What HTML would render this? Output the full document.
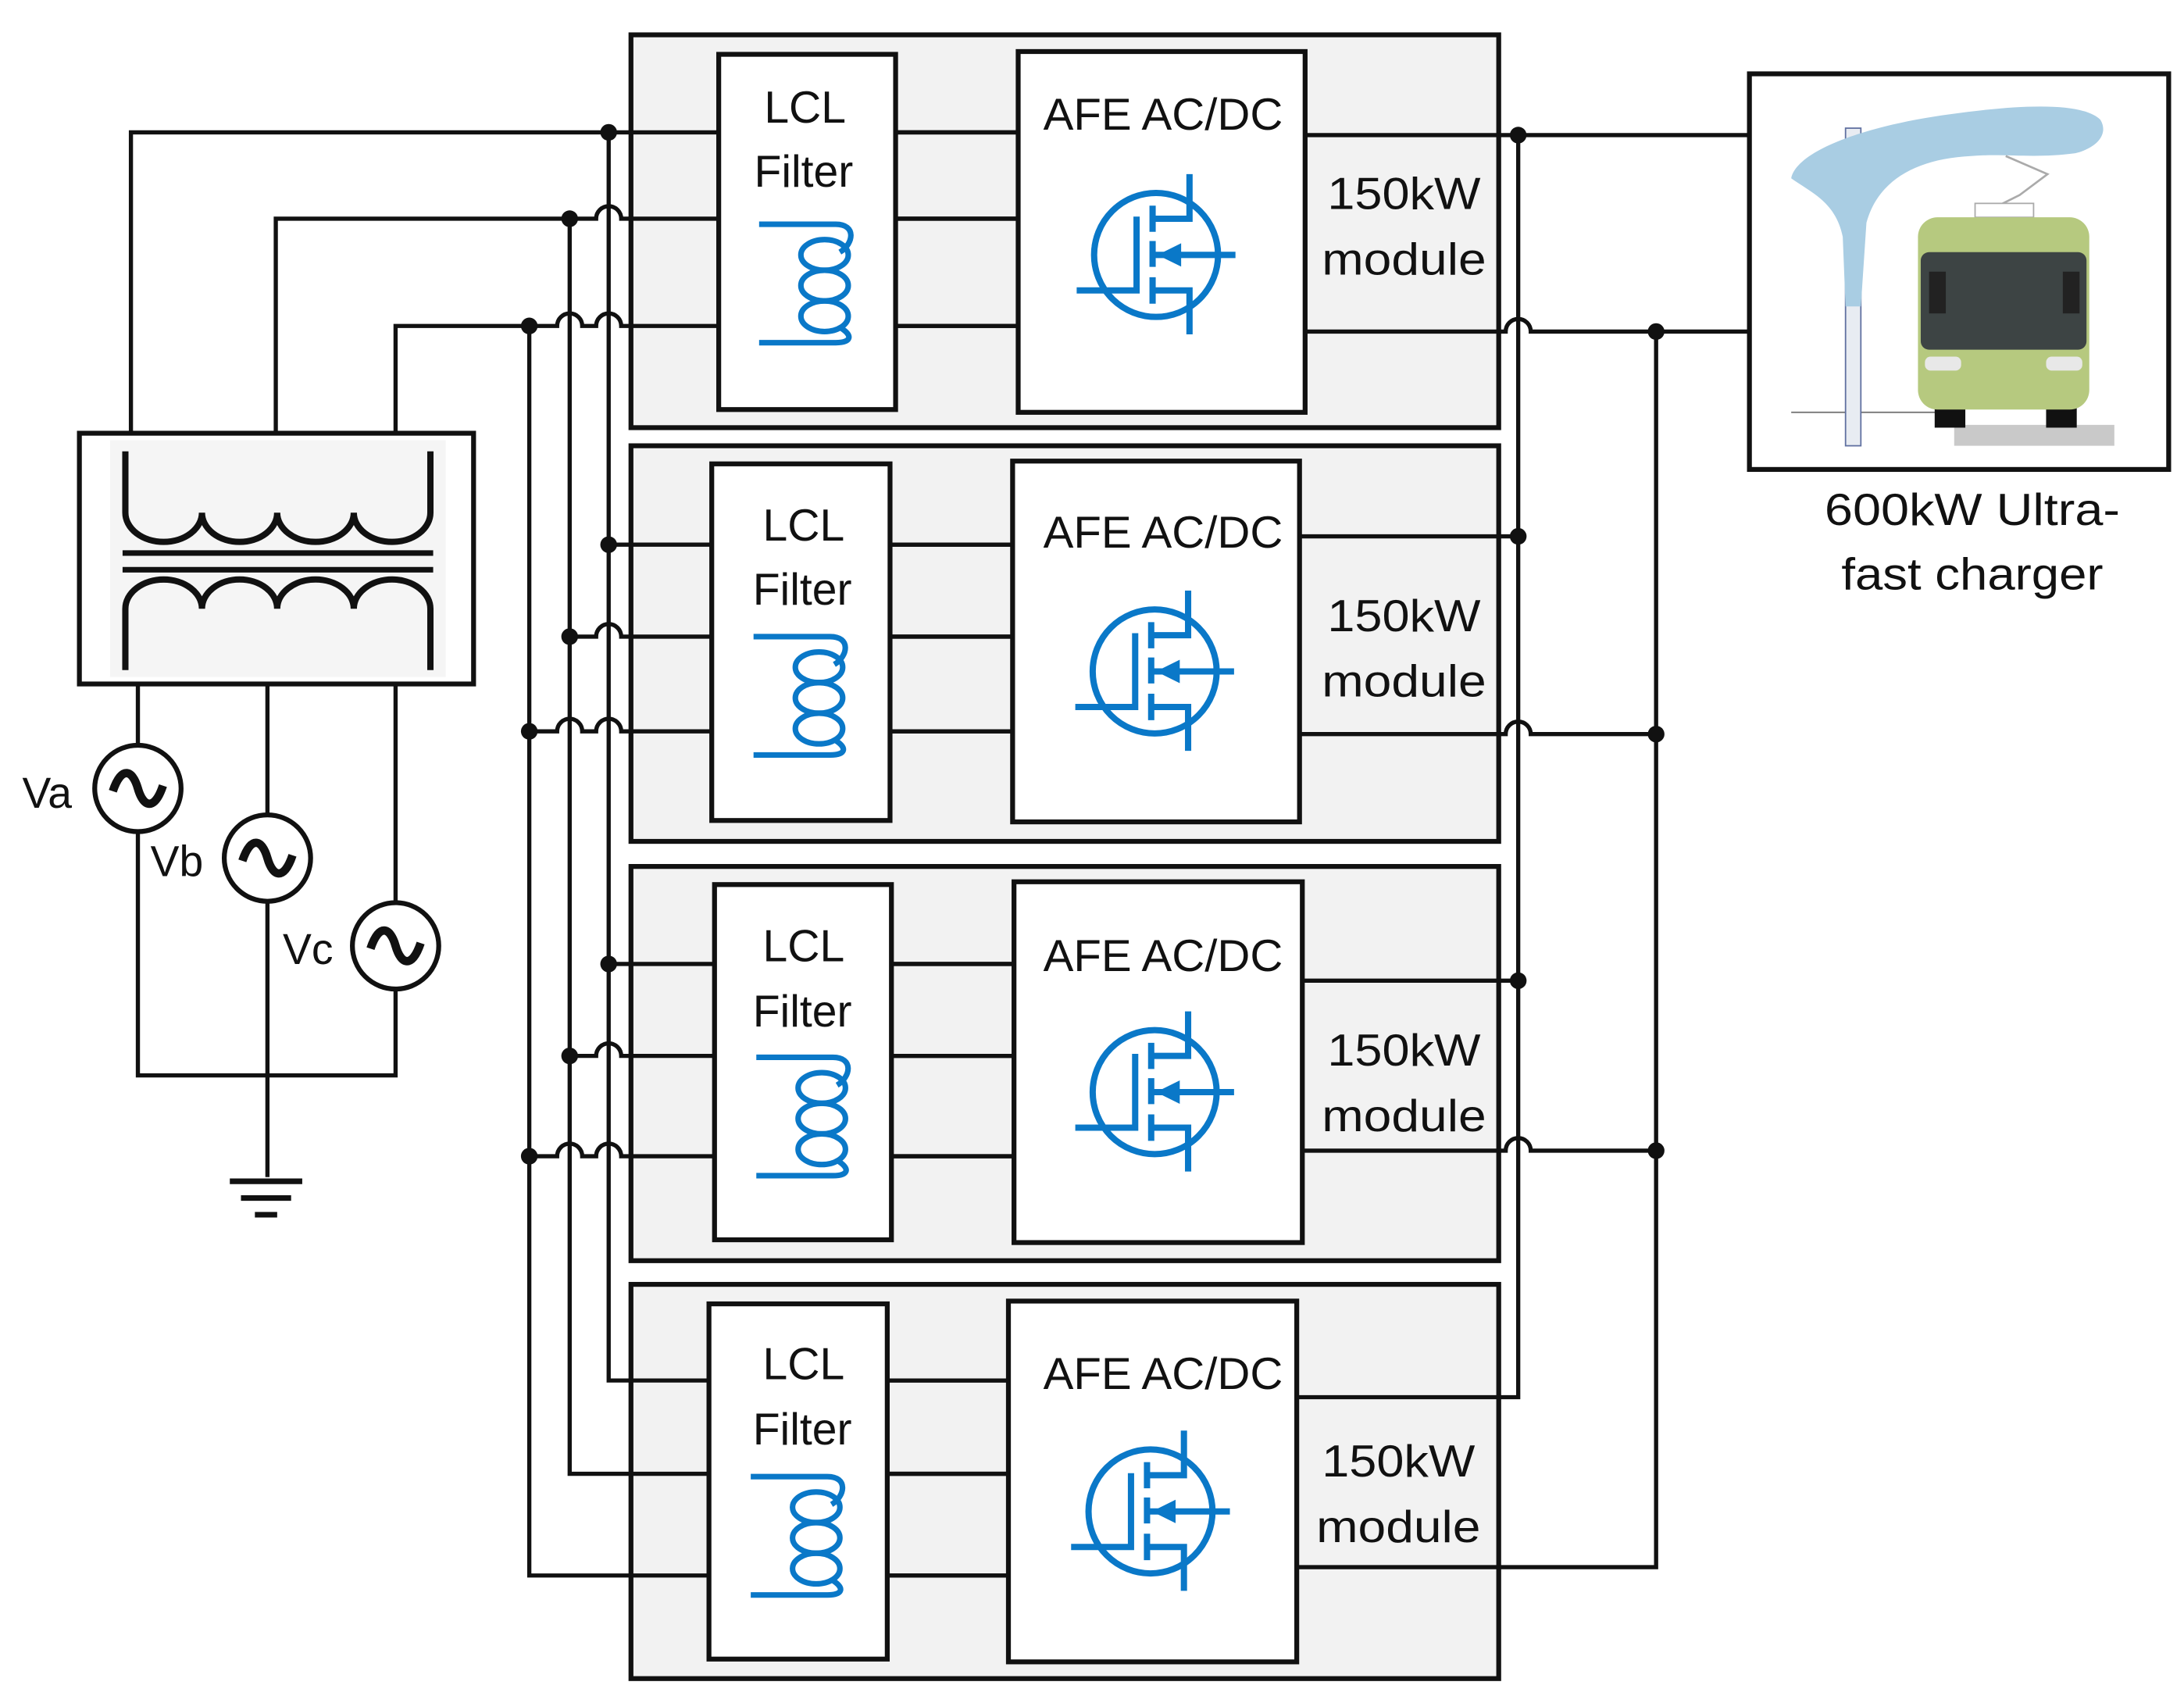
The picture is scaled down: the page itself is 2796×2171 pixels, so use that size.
<!DOCTYPE html>
<html><head><meta charset="utf-8"><style>
html,body{margin:0;padding:0;background:#fff;}
svg{display:block;}
text{font-family:"Liberation Sans",Arial,sans-serif;fill:#111;}
</style></head><body>
<svg width="2796" height="2171" viewBox="0 0 1568 1217.5" xmlns="http://www.w3.org/2000/svg">
<defs>
<g id="mos" fill="none" stroke="#0a78c8" stroke-width="4.5">
<circle cx="0" cy="0" r="44.5"/>
<path d="M-57 25.5H-14V-27.5"/>
<path d="M-2.5 -35.4V-16.6M-2.5 -10V8.6M-2.5 16V35"/>
<path d="M-2.5 -26H24V-58M-2.5 25.5H24V57M-2.5 0H57"/>
<polygon points="1,0 18,-8.4 18,8.4" fill="#0a78c8" stroke="none"/>
</g>
<g id="coil" fill="none" stroke="#0a78c8" stroke-width="4">
<path d="M0 0H55C70 0 68 14 58 20"/>
<ellipse cx="47" cy="22" rx="17" ry="11"/>
<ellipse cx="47" cy="44" rx="17" ry="11"/>
<ellipse cx="47" cy="66" rx="17" ry="11"/>
<path d="M58 74C68 80 66 85 55 85H0"/>
</g>
<g id="src">
<circle cx="0" cy="0" r="31" fill="#fff" stroke="#111" stroke-width="3.5"/>
<path d="M-18 2C-12 -16 -4 -14 0 0S12 16 18 -2" fill="none" stroke="#111" stroke-width="6"/>
</g>
</defs>

<g stroke="#111" stroke-width="3.5">
<rect x="453" y="25" width="623" height="282" fill="#f2f2f2"/>
<rect x="453" y="320" width="623" height="284" fill="#f2f2f2"/>
<rect x="453" y="622" width="623" height="283" fill="#f2f2f2"/>
<rect x="453" y="922" width="623" height="283" fill="#f2f2f2"/>
</g>

<g fill="none" stroke="#111" stroke-width="3">
<path d="M94 311V95H731"/>
<path d="M198 311V157H428A9 9 0 0 1 446 157H731"/>
<path d="M284 311V234H400A9 9 0 0 1 418 234H428A9 9 0 0 1 446 234H731"/>
<path d="M437 95V991H724"/>
<path d="M409 157V1058H724"/>
<path d="M380 234V1131H724"/>
<path d="M437 391H727"/>
<path d="M409 457H428A9 9 0 0 1 446 457H727"/>
<path d="M380 525H400A9 9 0 0 1 418 525H428A9 9 0 0 1 446 525H727"/>
<path d="M437 692H728"/>
<path d="M409 758H428A9 9 0 0 1 446 758H728"/>
<path d="M380 830H400A9 9 0 0 1 418 830H428A9 9 0 0 1 446 830H728"/>
<path d="M937 97H1256"/>
<path d="M937 238H1081A9 9 0 0 1 1099 238H1256"/>
<path d="M933 385H1090"/>
<path d="M933 527H1081A9 9 0 0 1 1099 527H1189"/>
<path d="M935 704H1090"/>
<path d="M935 826H1081A9 9 0 0 1 1099 826H1189"/>
<path d="M931 1003H1090V97"/>
<path d="M931 1125H1189V238"/>
<path d="M99 491V772H284V491"/>
<path d="M192 491V845"/>
<path d="M165 848H217M173 860H209M183 872H199" stroke-width="4"/>
</g>
<g fill="#111">
<circle cx="437" cy="95" r="6"/><circle cx="409" cy="157" r="6"/><circle cx="380" cy="234" r="6"/>
<circle cx="437" cy="391" r="6"/><circle cx="409" cy="457" r="6"/><circle cx="380" cy="525" r="6"/>
<circle cx="437" cy="692" r="6"/><circle cx="409" cy="758" r="6"/><circle cx="380" cy="830" r="6"/>
<circle cx="1090" cy="97" r="6"/><circle cx="1189" cy="238" r="6"/>
<circle cx="1090" cy="385" r="6"/><circle cx="1189" cy="527" r="6"/>
<circle cx="1090" cy="704" r="6"/><circle cx="1189" cy="826" r="6"/>
</g>

<g fill="#fff" stroke="#111" stroke-width="3.5">
<rect x="516" y="39" width="127" height="255"/>
<rect x="731" y="37" width="206" height="259"/>
<rect x="511" y="333" width="128" height="256"/>
<rect x="727" y="331" width="206" height="259"/>
<rect x="513" y="635" width="127" height="255"/>
<rect x="728" y="633" width="207" height="259"/>
<rect x="509" y="936" width="128" height="255"/>
<rect x="724" y="934" width="207" height="259"/>
</g>
<g stroke="#111" stroke-width="3">
<path d="M643 95H731M643 157H731M643 234H731"/>
<path d="M639 391H727M639 457H727M639 525H727"/>
<path d="M640 692H728M640 758H728M640 830H728"/>
<path d="M637 991H724M637 1058H724M637 1131H724"/>
</g>
<use href="#coil" x="545" y="161"/>
<use href="#coil" x="541" y="457"/>
<use href="#coil" x="543" y="759"/>
<use href="#coil" x="539" y="1060"/>
<use href="#mos" x="830" y="183"/>
<use href="#mos" x="829" y="482"/>
<use href="#mos" x="829" y="784"/>
<use href="#mos" x="826" y="1085"/>

<g font-size="32" text-anchor="middle">
<text x="578" y="88">LCL</text><text x="577" y="134">Filter</text>
<text x="835" y="93" textLength="172" lengthAdjust="spacingAndGlyphs">AFE AC/DC</text>
<text x="1008" y="150" textLength="110" lengthAdjust="spacingAndGlyphs">150kW</text>
<text x="1008" y="197" textLength="118" lengthAdjust="spacingAndGlyphs">module</text>

<text x="577" y="388">LCL</text><text x="576" y="434">Filter</text>
<text x="835" y="393" textLength="172" lengthAdjust="spacingAndGlyphs">AFE AC/DC</text>
<text x="1008" y="453" textLength="110" lengthAdjust="spacingAndGlyphs">150kW</text>
<text x="1008" y="500" textLength="118" lengthAdjust="spacingAndGlyphs">module</text>

<text x="577" y="690">LCL</text><text x="576" y="737">Filter</text>
<text x="835" y="697" textLength="172" lengthAdjust="spacingAndGlyphs">AFE AC/DC</text>
<text x="1008" y="765" textLength="110" lengthAdjust="spacingAndGlyphs">150kW</text>
<text x="1008" y="812" textLength="118" lengthAdjust="spacingAndGlyphs">module</text>

<text x="577" y="990">LCL</text><text x="576" y="1037">Filter</text>
<text x="835" y="997" textLength="172" lengthAdjust="spacingAndGlyphs">AFE AC/DC</text>
<text x="1004" y="1060" textLength="110" lengthAdjust="spacingAndGlyphs">150kW</text>
<text x="1004" y="1107" textLength="118" lengthAdjust="spacingAndGlyphs">module</text>

<text x="1416" y="377" textLength="212" lengthAdjust="spacingAndGlyphs">600kW Ultra-</text>
<text x="1416" y="423" textLength="188" lengthAdjust="spacingAndGlyphs">fast charger</text>
</g>
<g font-size="31">
<text x="16" y="580">Va</text>
<text x="108" y="629">Vb</text>
<text x="203" y="692">Vc</text>
</g>

<rect x="57" y="311" width="283" height="180" fill="#fff" stroke="#111" stroke-width="3.5"/>
<rect x="79" y="316" width="241" height="170" fill="#f5f5f5"/>
<g fill="none" stroke="#111" stroke-width="4.5">
<path d="M90 324V368A27.5 21 0 0 0 145 368A27 21 0 0 0 199 368A27.5 21 0 0 0 254 368A27.5 21 0 0 0 309 368V324"/>
<path d="M90 481V437A27.5 21 0 0 1 145 437A27 21 0 0 1 199 437A27.5 21 0 0 1 254 437A27.5 21 0 0 1 309 437V481"/>
<path d="M88 397H311M88 409H311" stroke-width="4"/>
</g>
<use href="#src" x="99" y="566"/>
<use href="#src" x="192" y="616"/>
<use href="#src" x="284" y="679"/>

<rect x="1256" y="53" width="301" height="284" fill="#fff" stroke="#111" stroke-width="3.5"/>
<g>
<rect x="1403" y="305" width="115" height="15" fill="#c9c9c9"/>
<path d="M1286 296H1403" stroke="#777" stroke-width="1"/>
<rect x="1325" y="92" width="11" height="228" fill="#e8ecf2" stroke="#6070a0" stroke-width="1"/>
<path d="M1286 128C1290 108 1340 90 1400 82C1450 75 1495 73 1508 86C1514 96 1506 106 1490 110C1460 114 1440 110 1415 112C1375 114 1348 130 1340 160L1336 220H1325L1323 170C1318 145 1300 138 1286 128Z" fill="#a9cde3"/>
<path d="M1440 112L1470 125L1450 140L1430 150" fill="none" stroke="#aaa" stroke-width="1.5"/>
<rect x="1418" y="146" width="42" height="10" fill="#fff" stroke="#aaa" stroke-width="1"/>
<rect x="1389" y="285" width="22" height="22" fill="#111"/>
<rect x="1469" y="285" width="22" height="22" fill="#111"/>
<rect x="1377" y="156" width="123" height="138" rx="14" fill="#b6c97f"/>
<rect x="1379" y="181" width="119" height="70" rx="6" fill="#3d4444"/>
<rect x="1385" y="195" width="12" height="30" fill="#222"/>
<rect x="1481" y="195" width="12" height="30" fill="#222"/>
<rect x="1382" y="256" width="26" height="10" rx="4" fill="#e8e8e8"/>
<rect x="1469" y="256" width="26" height="10" rx="4" fill="#e8e8e8"/>
</g>
</svg>
</body></html>
